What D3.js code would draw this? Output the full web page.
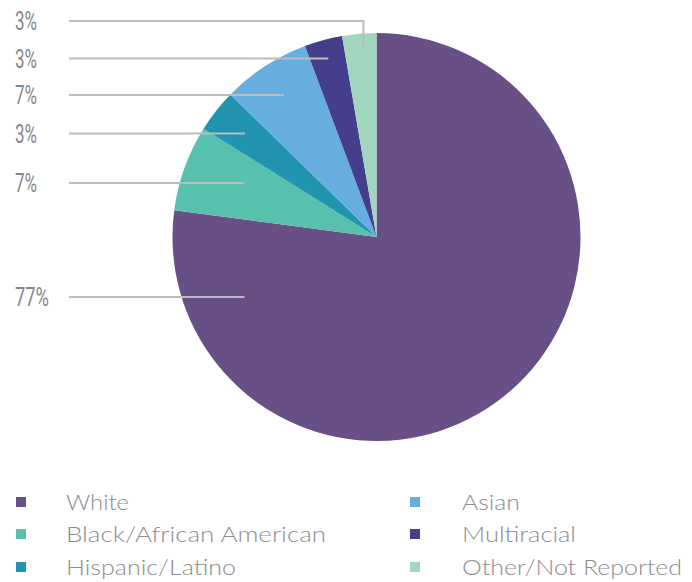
<!DOCTYPE html>
<html>
<head>
<meta charset="utf-8">
<script src="https://cdn.jsdelivr.net/npm/d3@7"></script>
<style>
  html, body { margin: 0; padding: 0; background: #ffffff; }
  svg { display: block; }
</style>
</head>
<body>
<div id="chart"></div>
<script>
// ---- data ----
const categories = ["White", "Black/African American", "Hispanic/Latino", "Asian", "Multiracial", "Other/Not Reported"];
const values = [77.1, 6.8, 3.4, 7.0, 3.0, 2.7];
const colors = ["#684f86", "#57c1ae", "#2195b0", "#67aee0", "#443e8c", "#a2d7bf"];
// label rows (y of each leader) for slices, layout only
const labelY = [297, 183, 133.5, 95, 58.5, 21];
// legend layout order (column-major)
const legendOrder = [0, 1, 2, 3, 4, 5];
const legendWidths = [63, 260, 170, 58, 114, 220];

const W = 692, H = 582;
const cx = 376.5, cy = 237, R = 204;

const svg = d3.select("#chart").append("svg").attr("width", W).attr("height", H);

const pie = d3.pie().sort(null).value(d => d)(values);
const arc = d3.arc().innerRadius(0).outerRadius(R);

const g = svg.append("g").attr("transform", `translate(${cx},${cy})`);
g.selectAll("path").data(pie).enter().append("path")
  .attr("d", arc)
  .attr("fill", (d, i) => colors[i]);

// leader lines
const fmt = v => Math.round(v) + "%";
const lineColor = "#bcbcc0";
const labelX0 = 69, minEndX = cx - 132;
pie.forEach((d, i) => {
  const ly = labelY[i];
  const mid = (d.startAngle + d.endAngle) / 2;
  let ex, pts;
  if (i === 0) {
    ex = minEndX;
    pts = [[labelX0, ly], [ex, ly]];
  } else if (i === pie.length - 1) {
    const r = R * 0.93;
    ex = cx + r * Math.sin(mid) + 3;
    const ey = cy - r * Math.cos(mid);
    pts = [[labelX0, ly], [ex, ly], [ex, ey]];
  } else {
    const r = (cy - ly) / Math.cos(mid);
    ex = Math.max(cx + r * Math.sin(mid), minEndX);
    pts = [[labelX0, ly], [ex, ly]];
  }
  svg.append("path")
    .attr("d", d3.line()(pts))
    .attr("fill", "none")
    .attr("stroke", lineColor)
    .attr("stroke-width", 2);
  const label = fmt(values[i]);
  svg.append("text")
    .attr("x", 15)
    .attr("y", ly + 9)
    .attr("font-family", "Roboto, 'Liberation Sans', sans-serif")
    .attr("font-size", 25)
    .attr("font-weight", 400)
    .attr("fill", "#86868a")
    .attr("textLength", label.length === 2 ? 22 : 34)
    .attr("lengthAdjust", "spacingAndGlyphs")
    .text(label);
});

// legend
const legX = [16, 410], legTextX = [66, 462], legY = [502, 534, 567];
legendOrder.forEach((ci, k) => {
  const col = Math.floor(k / 3), row = k % 3;
  svg.append("rect")
    .attr("x", legX[col])
    .attr("y", legY[row] - 5)
    .attr("width", 10)
    .attr("height", 10)
    .attr("fill", colors[ci]);
  svg.append("text")
    .attr("x", legTextX[col])
    .attr("y", legY[row] + 7.5)
    .attr("font-family", "Lato, 'Open Sans', sans-serif")
    .attr("font-size", 21)
    .attr("font-weight", 300)
    .attr("fill", "#8c8c90")
    .attr("textLength", legendWidths[ci])
    .attr("lengthAdjust", "spacingAndGlyphs")
    .text(categories[ci]);
});
</script>
</body>
</html>
